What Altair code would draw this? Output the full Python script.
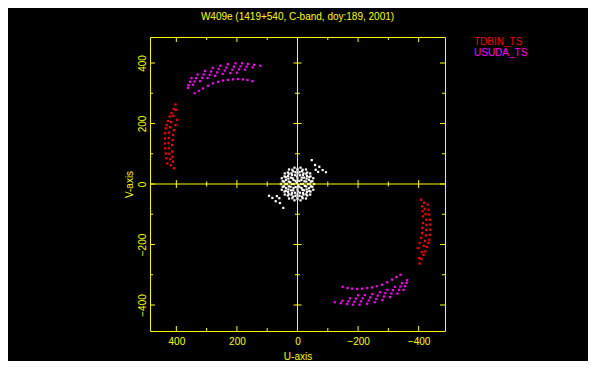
import altair as alt
import pandas as pd

# ---------------- data (upper half of the uv-plane; conjugates are plotted too) -------------
tdbin_u = [403, 409, 416, 422, 428, 432, 435, 437, 438, 438, 437, 435, 433, 430,
           397, 403, 408, 411, 412, 414, 414, 413, 411, 408,
           402, 410, 417, 421, 424, 425, 426, 425, 423, 420, 418]
tdbin_v = [263, 248, 234, 223, 208, 195, 184, 168, 151, 134, 118, 101, 85, 68,
           212, 195, 178, 162, 145, 129, 107, 90, 74, 52,
           245, 225, 205, 188, 170, 152, 135, 118, 100, 82, 62]

usuda_u = [340, 326, 312, 296, 279, 262, 246, 230, 213, 197, 180, 165, 149,
           350, 330, 305, 280, 255, 230, 205, 183, 164, 143, 123,
           355, 335, 310, 285, 260, 235, 210, 188, 168, 148,
           360, 340, 315, 290, 265, 240, 215, 193, 173,
           362, 345, 322, 297, 272, 247, 222, 200]
usuda_v = [300, 308, 316, 325, 333, 338, 342, 344, 346, 347, 346, 344, 340,
           350, 362, 374, 384, 391, 396, 399, 399, 397, 394, 391,
           338, 350, 362, 372, 380, 385, 388, 389, 388, 386,
           327, 339, 351, 361, 369, 375, 378, 379, 378,
           318, 328, 340, 350, 358, 364, 367, 368]

short_u = [55, 52, 42, 28, 10, -10, -28, -42, -52,
           49, 43, 32, 17, 0, -17, -32, -43, -49,
           44, 39, 29, 15, 0, -15, -29, -39, -44,
           40, 38, 31, 20, 7, -7, -20, -31, -38,
           35, 30, 18, 0, -18, -30,
           29, 21, 8, -8, -21, -29,
           24, 16, 1, -14, -23,
           18, 13, 0, -13,
           12, 6, -6, 3,
           -47, -58, -72, -94, -83, -68, -60]
short_v = [0, 19, 35, 48, 54, 54, 48, 35, 19,
           9, 25, 38, 47, 50, 47, 38, 25, 9,
           8, 23, 34, 42, 45, 42, 34, 23, 8,
           0, 14, 26, 35, 39, 39, 35, 26, 14,
           0, 18, 30, 35, 30, 18,
           8, 21, 29, 29, 21, 8,
           6, 19, 25, 21, 9,
           0, 13, 18, 13,
           0, 10, 10, 3,
           79, 63, 57, 39, 46, 40, 47]

series_names = ["TDBIN_TS", "USUDA_TS", "short"]
series_colors = ["#ff0000", "#ff00ff", "#ffffff"]

x_labels = [400, 200, 0, -200, -400]
y_labels = [-400, -200, 0, 200, 400]
major_ticks = [-400, -200, 0, 200, 400]
minor_ticks = [-300, -100, 100, 300]

title_text = "W409e (1419+540, C-band, doy:189, 2001)"

# ---------------- table ----------------
rows = []
for name, us, vs in [(series_names[0], tdbin_u, tdbin_v),
                     (series_names[1], usuda_u, usuda_v),
                     (series_names[2], short_u, short_v)]:
    for u, v in zip(us, vs):
        rows.append({"u": u, "v": v, "ant": name})
        rows.append({"u": -u, "v": -v, "ant": name})
pts = pd.DataFrame(rows)

W, H = 295, 294
YEL = "#ffff00"
FONT = "Liberation Sans"
FS = 10

xs = alt.Scale(domain=[487, -487], nice=False, zero=False)
ys = alt.Scale(domain=[-486, 486], nice=False, zero=False)

xaxis = alt.Axis(values=x_labels, title="U-axis", grid=False, domain=False, ticks=False,
                 tickSize=0, labelColor=YEL, labelFont=FONT, labelFontSize=FS,
                 labelPadding=5, labelOverlap=False, labelFlush=False,
                 titleColor=YEL, titleFont=FONT, titleFontSize=FS, titleFontWeight="normal",
                 titleX=W / 2, titleY=28, titleAlign="center", titleBaseline="alphabetic")
yaxis = alt.Axis(values=y_labels, title="V-axis", grid=False, domain=False, ticks=False,
                 tickSize=0, labelColor=YEL, labelFont=FONT, labelFontSize=FS,
                 labelPadding=3, labelAngle=270, labelAlign="center", labelBaseline="bottom",
                 labelOverlap=False, labelFlush=False,
                 titleColor=YEL, titleFont=FONT, titleFontSize=FS, titleFontWeight="normal",
                 titleAngle=270, titleX=-18, titleY=H / 2, titleAlign="center",
                 titleBaseline="alphabetic")

X = lambda f: alt.X(f, scale=xs, axis=xaxis)
Y = lambda f: alt.Y(f, scale=ys, axis=yaxis)

points = alt.Chart(pts).mark_square(size=5, opacity=1).encode(
    x=X("u:Q"), y=Y("v:Q"),
    color=alt.Color("ant:N", scale=alt.Scale(domain=series_names, range=series_colors), legend=None),
)

one = pd.DataFrame({"z": [0]})
vline = alt.Chart(one).mark_rule(color=YEL, strokeWidth=1).encode(x=X("z:Q"))
hline = alt.Chart(one).mark_rule(color=YEL, strokeWidth=1).encode(y=Y("z:Q"))


def frame_ticks(vals, L, C):
    df = pd.DataFrame({"t": vals})
    dfc = pd.DataFrame({"t": [t for t in vals if t != 0], "z": 0})
    r = dict(color=YEL, strokeWidth=1)
    return [
        alt.Chart(df).mark_rule(**r).encode(x=X("t:Q"), y=alt.value(H), y2=alt.value(H - L)),
        alt.Chart(df).mark_rule(**r).encode(x=X("t:Q"), y=alt.value(0), y2=alt.value(L)),
        alt.Chart(df).mark_rule(**r).encode(y=Y("t:Q"), x=alt.value(0), x2=alt.value(L)),
        alt.Chart(df).mark_rule(**r).encode(y=Y("t:Q"), x=alt.value(W), x2=alt.value(W - L)),
        alt.Chart(dfc).mark_rule(xOffset=-C, x2Offset=C, **r).encode(
            y=Y("t:Q"), x=X("z:Q"), x2="z:Q"),
        alt.Chart(dfc).mark_rule(yOffset=-C, y2Offset=C, **r).encode(
            x=X("t:Q"), y=Y("z:Q"), y2="z:Q"),
    ]


legend_layers = []
for name, color, yy in [(series_names[0], series_colors[0], 8),
                        (series_names[1], series_colors[1], 18.5)]:
    legend_layers.append(
        alt.Chart(pd.DataFrame({"name": [name]})).mark_text(
            align="left", baseline="alphabetic", color=color, font=FONT, fontSize=FS
        ).encode(text="name:N", x=alt.value(324), y=alt.value(yy))
    )

chart = alt.layer(
    points, vline, hline,
    *frame_ticks(major_ticks, 5, 4),
    *frame_ticks(minor_ticks, 3, 2.5),
    *legend_layers,
).properties(
    width=W, height=H,
    title=alt.TitleParams(title_text, color=YEL, font=FONT, fontSize=FS,
                          fontWeight="normal", anchor="middle", offset=15),
    padding={"left": 142, "top": 29, "right": 143, "bottom": 30},
    autosize=alt.AutoSizeParams(type="none"),
).configure(
    background="black"
).configure_view(
    stroke=YEL, strokeWidth=1
)

chart.save("out.html", embed_options={"renderer": "svg", "actions": False})
